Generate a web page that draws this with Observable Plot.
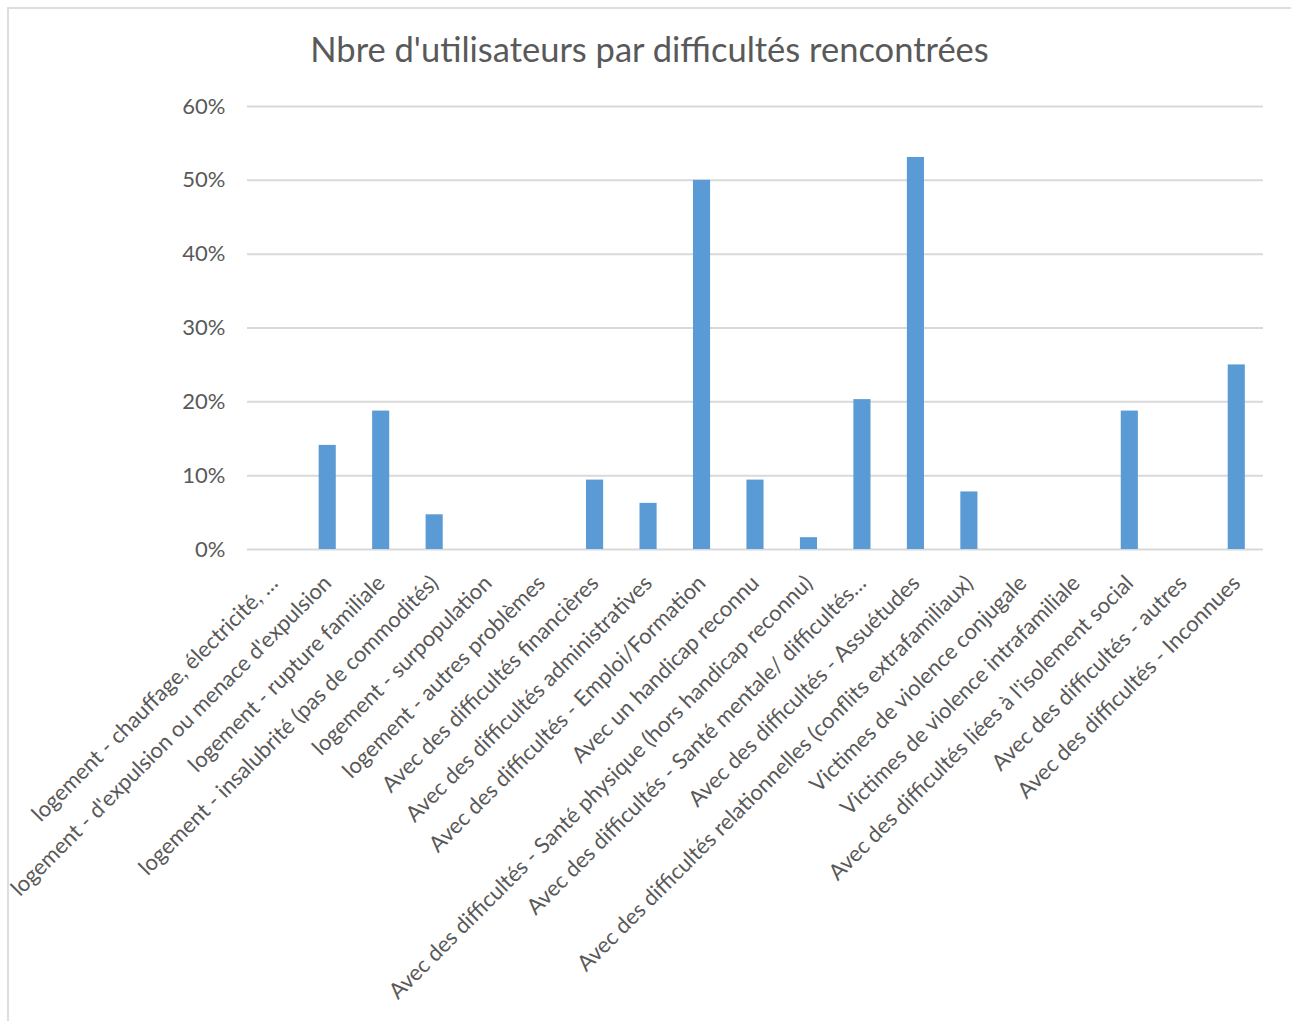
<!DOCTYPE html>
<html>
<head>
<meta charset="utf-8">
<script src="https://cdn.jsdelivr.net/npm/d3@7"></script>
<script src="https://cdn.jsdelivr.net/npm/@observablehq/plot@0.6"></script>
<style>
  html, body { margin: 0; padding: 0; background: #fff; }
  body { width: 1291px; height: 1021px; overflow: hidden; position: relative; font-family: Lato, "Open Sans", sans-serif; }
  #frame { position: absolute; left: 7px; top: 7px; width: 1300px; height: 1030px; border-top: 2px solid #dedede; border-left: 2px solid #dedede; box-sizing: border-box; pointer-events: none; }
  #title { height: 86px; box-sizing: border-box; padding-top: 32px; text-align: center; font-size: 34.5px; line-height: 1; color: #595959; padding-left: 8px; white-space: nowrap; }
  #chart svg { display: block; }
</style>
</head>
<body>
<div id="frame"></div>
<div id="title">Nbre d'utilisateurs par difficultés rencontrées</div>
<div id="chart"></div>
<script>
const categories = [
  "logement - chauffage, électricité, …",
  "logement - d'expulsion ou menace d'expulsion",
  "logement - rupture familiale",
  "logement - insalubrité (pas de commodités)",
  "logement - surpopulation",
  "logement - autres problèmes",
  "Avec des difficultés financières",
  "Avec des difficultés administratives",
  "Avec des difficultés - Emploi/Formation",
  "Avec un handicap reconnu",
  "Avec des difficultés - Santé physique (hors handicap reconnu)",
  "Avec des difficultés - Santé mentale/ difficultés…",
  "Avec des difficultés - Assuétudes",
  "Avec des difficultés relationnelles (conflits extrafamiliaux)",
  "Victimes de violence conjugale",
  "Victimes de violence intrafamiliale",
  "Avec des difficultés liées à l'isolement social",
  "Avec des difficultés - autres",
  "Avec des difficultés - Inconnues"
];
const values = [0, 0.141, 0.1875, 0.047, 0, 0, 0.094, 0.0625, 0.50, 0.094, 0.016, 0.203, 0.531, 0.078, 0, 0, 0.1875, 0, 0.25];
const yTicks = [0, 0.1, 0.2, 0.3, 0.4, 0.5, 0.6];

const data = categories.map((c, i) => ({category: c, value: values[i]}));

const chart = Plot.plot({
  width: 1291,
  height: 935,
  marginLeft: 247,
  marginRight: 28,
  marginTop: 20,
  marginBottom: 472,
  style: {fontFamily: "Lato, 'Open Sans', sans-serif", color: "#595959", background: "transparent"},
  x: {domain: categories, paddingInner: 0.68, paddingOuter: 0.34, round: false, label: null},
  y: {domain: [0, 0.6], label: null},
  marks: [
    Plot.ruleY(yTicks, {stroke: "#d9d9d9", strokeWidth: 2}),
    Plot.barY(data, {x: "category", y: "value", fill: "#5b9bd5"}),
    Plot.axisY({ticks: yTicks, tickFormat: d3.format(".0%"), tickSize: 0, tickPadding: 22, fontSize: 22, fill: "#595959", label: null}),
    Plot.axisX({tickSize: 0, tickPadding: 30, tickRotate: -45, fontSize: 22, fill: "#595959", label: null, lineWidth: Infinity, textOverflow: null})
  ]
});
document.getElementById("chart").appendChild(chart);
</script>
</body>
</html>
